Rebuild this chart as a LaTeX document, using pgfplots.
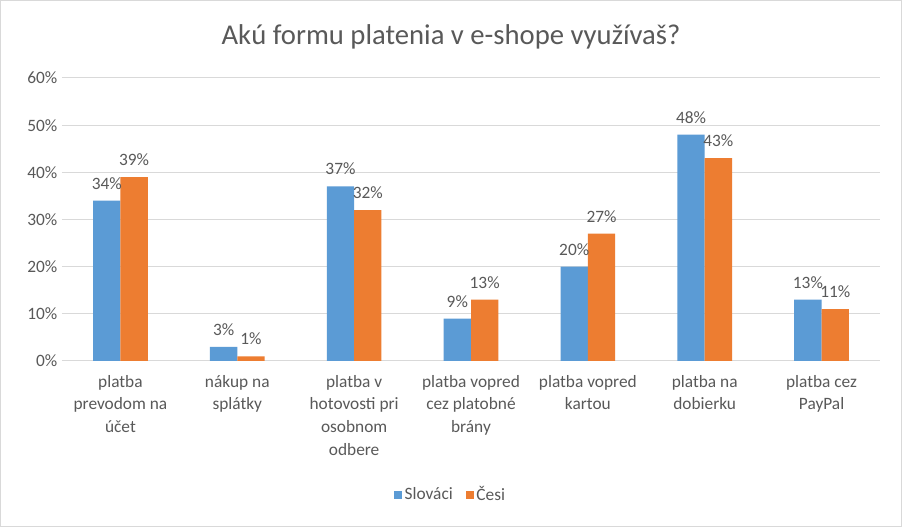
\documentclass[border=0pt]{standalone}
\usepackage{pgfplots}
\pgfplotsset{compat=1.18}
\usepackage{fontspec}
\setmainfont{Carlito}
\definecolor{cblue}{HTML}{5B9BD5}
\definecolor{corange}{HTML}{ED7D31}
\definecolor{cgrid}{HTML}{D9D9D9}
\definecolor{ctext}{HTML}{595959}
\begin{document}
\begin{tikzpicture}[x=0.75pt,y=0.75pt]
\draw[cgrid,line width=0.75pt,fill=white] (0.5,0.5) rectangle (901.5,526.5);
\begin{axis}[
  at={(62*0.75pt,166*0.75pt)}, anchor=south west,
  scale only axis, width=613.5pt, height=212.25pt,
  ybar=0pt, bar width=20.5pt,
  xmin=-0.5, xmax=6.5, ymin=0, ymax=60,
  xtick={0,...,6},
  xticklabels={{platba\\prevodom na\\účet},{nákup na\\splátky},{platba v\\hotovosti pri\\osobnom\\odbere},{platba vopred\\cez platobné\\brány},{platba vopred\\kartou},{platba na\\dobierku},{platba cez\\PayPal}},
  xticklabel style={align=center,font=\fontsize{13}{17}\selectfont,text=ctext,anchor=north,yshift=-7pt},
  ytick={0,10,...,60},
  yticklabel={\pgfmathprintnumber{\tick}\%},
  yticklabel style={font=\fontsize{13}{15}\selectfont,text=ctext},
  /pgf/number format/assume math mode=true,
  major tick length=0pt,
  ymajorgrids, grid style={cgrid,line width=0.75pt},
  axis line style={draw=none},
  nodes near coords={\pgfmathprintnumber{\pgfplotspointmeta}\%},
  nodes near coords style={font=\fontsize{13}{15}\selectfont,text=ctext,yshift=5pt},
  title={Akú formu platenia v e-shope využívaš?},
  title style={at={(0.4756,1.118)},anchor=center,font=\fontsize{21.5}{25}\selectfont,text=ctext},
  legend style={at={(0.4756,-0.473)},anchor=center,draw=none,legend columns=2,font=\fontsize{13}{15}\selectfont,text=ctext,/tikz/every even column/.append style={column sep=8pt}},
  legend image code/.code={\draw[#1,draw=none] (0cm,-0.1cm) rectangle (0.2cm,0.1cm);},
]
\addplot[fill=cblue,draw=none] coordinates {(0,34) (1,3) (2,37) (3,9) (4,20) (5,48) (6,13)};
\addplot[fill=corange,draw=none] coordinates {(0,39) (1,1) (2,32) (3,13) (4,27) (5,43) (6,11)};
\legend{Slováci,Česi}
\end{axis}
\end{tikzpicture}
\end{document}
